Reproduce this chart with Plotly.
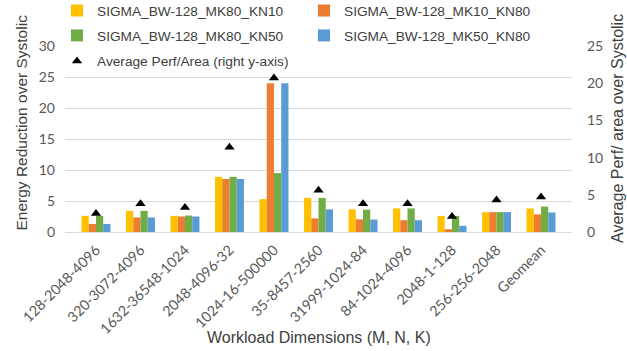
import plotly.graph_objects as go

categories = ["128-2048-4096", "320-3072-4096", "1632-36548-1024", "2048-4096-32",
              "1024-16-500000", "35-8457-2560", "31999-1024-84", "84-1024-4096",
              "2048-1-128", "256-256-2048", "Geomean"]
mk80_kn10 = [2.6, 3.4, 2.6, 8.9, 5.3, 5.5, 3.65, 3.8, 2.6, 3.2, 3.8]
mk10_kn80 = [1.3, 2.35, 2.5, 8.55, 24.0, 2.2, 2.05, 1.9, 0.45, 3.2, 2.85]
mk80_kn50 = [2.6, 3.4, 2.65, 8.9, 9.5, 5.5, 3.6, 3.8, 2.6, 3.2, 4.1]
mk50_kn80 = [1.3, 2.35, 2.5, 8.55, 24.0, 3.65, 2.0, 1.9, 1.0, 3.2, 3.15]
perf_area = [2.5, 3.8, 3.3, 11.4, 20.7, 5.6, 3.8, 3.8, 2.1, 4.3, 4.7]

names = ["SIGMA_BW-128_MK80_KN10", "SIGMA_BW-128_MK10_KN80",
         "SIGMA_BW-128_MK80_KN50", "SIGMA_BW-128_MK50_KN80"]
colors = ["#FFC000", "#ED7D31", "#70AD47", "#5B9BD5"]
legends = ["legend", "legend", "legend2", "legend2"]
series = [mk80_kn10, mk10_kn80, mk80_kn50, mk50_kn80]

FONT = "Lato"
LFONT = "Liberation Sans"
TXT = "#595959"

fig = go.Figure()
for n, c, s, lg in zip(names, colors, series, legends):
    fig.add_trace(go.Bar(x=categories, y=s, name=n, marker_color=c,
                         marker_line_width=0, legend=lg))
fig.add_trace(go.Scatter(x=categories, y=perf_area, yaxis="y2", mode="markers",
                         name="Average Perf/Area (right y-axis)",
                         marker=dict(symbol="triangle-up", size=9, color="black"),
                         legend="legend3"))

W, H = 627, 351
ml, mr, mt, mb = 65, 55, 46, 119
ph = H - mt - mb
pw = W - ml - mr

def py(px):
    return (H - mb - px) / ph

def pxx(px):
    return (px - ml) / pw

def cy(px):
    return 1 - px / H

def cx(px):
    return px / W

leg_common = dict(orientation="h", xanchor="left", yanchor="middle",
                  xref="container", yref="container",
                  bgcolor="rgba(0,0,0,0)", font=dict(family=LFONT, size=13.7, color="#404040"),
                  entrywidth=202, entrywidthmode="pixels", itemclick=False,
                  traceorder="normal", tracegroupgap=0)

fig.update_layout(
    width=W, height=H,
    margin=dict(l=ml, r=mr, t=mt, b=mb, autoexpand=False),
    paper_bgcolor="white", plot_bgcolor="white",
    barmode="group", bargap=0.35, bargroupgap=0,
    font=dict(family=FONT, color=TXT),
    xaxis=dict(tickangle=-45, tickfont=dict(size=14.3, color=TXT, family=FONT),
               showgrid=False, showline=False, ticks="", ticklabelstandoff=6),
    yaxis=dict(range=[0, 30], dtick=5, gridcolor="#D9D9D9", gridwidth=1,
               zeroline=True, zerolinecolor="#D9D9D9", zerolinewidth=1,
               tickfont=dict(size=14, color=TXT, family=FONT), ticks="",
               ticklabelstandoff=9),
    yaxis2=dict(range=[0, 25], dtick=5, overlaying="y", side="right",
                showgrid=False, zeroline=False,
                tickfont=dict(size=14, color=TXT, family=FONT), ticks="",
                ticklabelstandoff=14),
    legend=dict(x=cx(57), y=cy(10.7), **leg_common),
    legend2=dict(x=cx(57), y=cy(35.5), **leg_common),
    legend3=dict(x=cx(57), y=cy(61), **leg_common),
    showlegend=True,
    annotations=[
        dict(text="Energy Reduction over Systolic", textangle=-90, xref="paper", yref="paper",
             x=pxx(21), y=py(122.5), xanchor="center", yanchor="middle", showarrow=False,
             font=dict(size=15.5, color="#404040", family=LFONT)),
        dict(text="Average Perf/ area over Systolic", textangle=-90, xref="paper", yref="paper",
             x=pxx(617), y=py(129), xanchor="center", yanchor="middle", showarrow=False,
             font=dict(size=16, color="#404040", family=LFONT)),
        dict(text="Workload Dimensions (M, N, K)", xref="paper", yref="paper",
             x=0.5, y=py(337), xanchor="center", yanchor="middle", showarrow=False,
             font=dict(size=16, color="#404040", family=LFONT)),
    ],
)

fig.write_html("out.html")
